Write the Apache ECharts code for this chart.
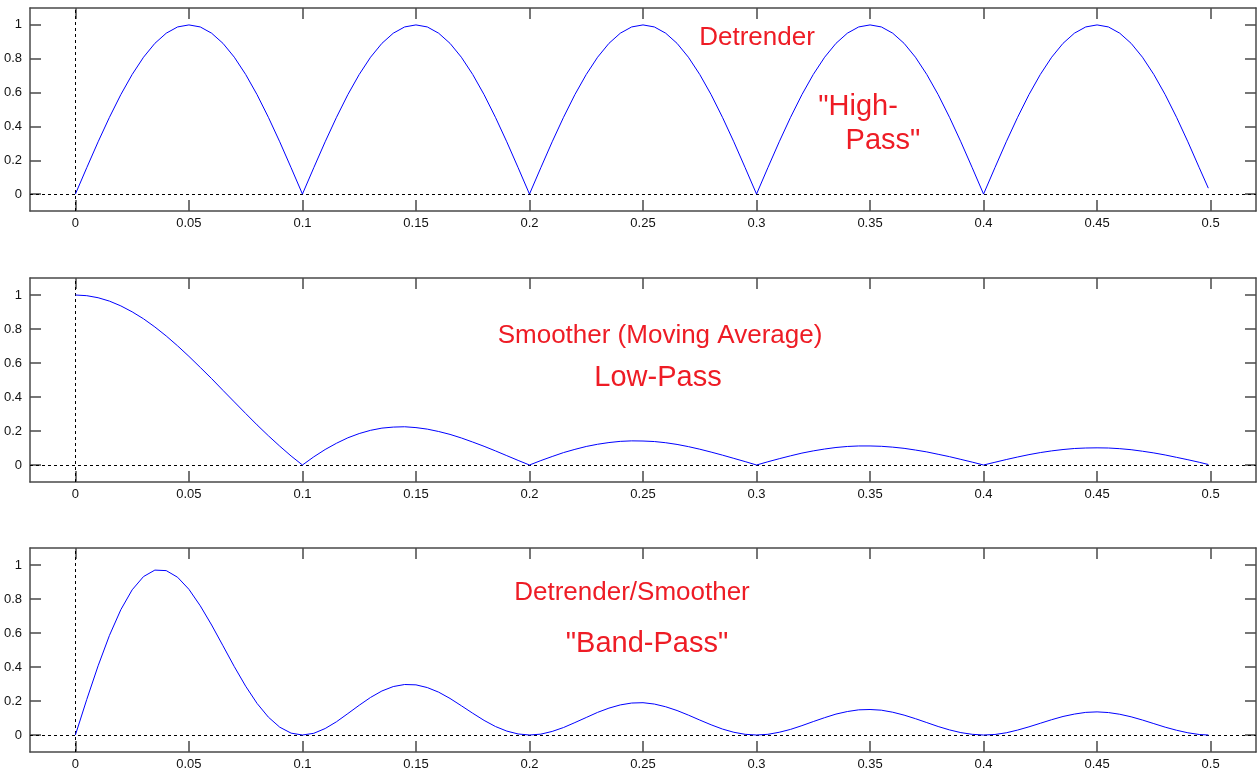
<!DOCTYPE html>
<html>
<head>
<meta charset="utf-8">
<script src="https://cdn.jsdelivr.net/npm/echarts@6/dist/echarts.min.js"></script>
<style>
html,body{margin:0;padding:0;background:#fff;}
#chart{width:1257px;height:774px;}
</style>
</head>
<body>
<div id="chart"></div>
<script>
// frequency (cycles per sample)
var freq = [0,0.005,0.01,0.015,0.02,0.025,0.03,0.035,0.04,0.045,
0.05,0.055,0.06,0.065,0.07,0.075,0.08,0.085,0.09,0.095,
0.1,0.105,0.11,0.115,0.12,0.125,0.13,0.135,0.14,0.145,
0.15,0.155,0.16,0.165,0.17,0.175,0.18,0.185,0.19,0.195,
0.2,0.205,0.21,0.215,0.22,0.225,0.23,0.235,0.24,0.245,
0.25,0.255,0.26,0.265,0.27,0.275,0.28,0.285,0.29,0.295,
0.3,0.305,0.31,0.315,0.32,0.325,0.33,0.335,0.34,0.345,
0.35,0.355,0.36,0.365,0.37,0.375,0.38,0.385,0.39,0.395,
0.4,0.405,0.41,0.415,0.42,0.425,0.43,0.435,0.44,0.445,
0.45,0.455,0.46,0.465,0.47,0.475,0.48,0.485,0.49,0.495,
0.499];

// Detrender ("High-Pass") response
var highPass = [0,0.156,0.309,0.454,0.588,0.707,0.809,0.891,0.951,0.988,
1,0.988,0.951,0.891,0.809,0.707,0.588,0.454,0.309,0.156,
0,0.156,0.309,0.454,0.588,0.707,0.809,0.891,0.951,0.988,
1,0.988,0.951,0.891,0.809,0.707,0.588,0.454,0.309,0.156,
0,0.156,0.309,0.454,0.588,0.707,0.809,0.891,0.951,0.988,
1,0.988,0.951,0.891,0.809,0.707,0.588,0.454,0.309,0.156,
0,0.156,0.309,0.454,0.588,0.707,0.809,0.891,0.951,0.988,
1,0.988,0.951,0.891,0.809,0.707,0.588,0.454,0.309,0.156,
0,0.156,0.309,0.454,0.588,0.707,0.809,0.891,0.951,0.988,
1,0.988,0.951,0.891,0.809,0.707,0.588,0.454,0.309,0.156,
0.035];

// Smoother (Moving Average) "Low-Pass" response
var lowPass = [1,0.996,0.984,0.964,0.936,0.901,0.860,0.812,0.759,0.701,
0.639,0.574,0.508,0.439,0.371,0.303,0.236,0.172,0.111,0.053,
0,0.048,0.091,0.128,0.160,0.185,0.204,0.217,0.223,0.225,
0.220,0.211,0.197,0.180,0.159,0.135,0.110,0.083,0.055,0.027,
0,0.026,0.050,0.073,0.092,0.109,0.122,0.132,0.139,0.142,
0.141,0.138,0.131,0.121,0.108,0.093,0.076,0.058,0.039,0.020,
0,0.019,0.037,0.054,0.070,0.083,0.094,0.103,0.109,0.112,
0.112,0.110,0.105,0.098,0.088,0.077,0.063,0.049,0.033,0.017,
0,0.016,0.032,0.047,0.061,0.073,0.083,0.091,0.097,0.100,
0.101,0.100,0.096,0.090,0.081,0.071,0.059,0.045,0.031,0.016,
0.003];

// Detrender/Smoother "Band-Pass" response
var bandPass = [0,0.209,0.407,0.586,0.737,0.854,0.932,0.970,0.967,0.928,
0.857,0.760,0.647,0.525,0.402,0.287,0.186,0.105,0.046,0.011,
0,0.010,0.038,0.078,0.126,0.175,0.221,0.259,0.285,0.297,
0.295,0.279,0.252,0.215,0.172,0.128,0.086,0.050,0.023,0.006,
0,0.005,0.021,0.044,0.073,0.103,0.133,0.158,0.177,0.188,
0.190,0.182,0.166,0.144,0.117,0.088,0.060,0.035,0.016,0.004,
0,0.004,0.016,0.033,0.055,0.079,0.102,0.123,0.138,0.148,
0.150,0.146,0.134,0.117,0.096,0.073,0.050,0.030,0.014,0.004,
0,0.003,0.013,0.029,0.048,0.069,0.090,0.109,0.123,0.133,
0.136,0.132,0.122,0.107,0.088,0.067,0.046,0.028,0.013,0.003,
0];

var xTicks = [0,0.05,0.1,0.15,0.2,0.25,0.3,0.35,0.4,0.45,0.5];
var yTicks = [0,0.2,0.4,0.6,0.8,1];

var panelSeries = [highPass, lowPass, bandPass];

var chart = echarts.init(document.getElementById('chart'), null, {renderer:'canvas'});

var AX = '#4a4a4a';
var LABEL_FONT = '"Liberation Sans", Arial, sans-serif';
var grids = [
  {left:30, right:1, top:8, height:203},
  {left:30, right:1, top:278, height:204},
  {left:30, right:1, top:548, height:204}
];

var xAxes = [], yAxes = [], series = [];
grids.forEach(function(g, i){
  // bottom x axis with labels
  xAxes.push({
    type:'value', gridIndex:i, position:'bottom', min:-0.02, max:0.52,
    axisLine:{show:true, onZero:false, lineStyle:{color:AX, width:1.5}},
    axisTick:{show:true, inside:true, length:11, customValues:xTicks, lineStyle:{color:AX, width:1.5}},
    axisLabel:{show:true, customValues:xTicks, margin:6, color:'#111', fontSize:13, fontFamily:LABEL_FONT,
      formatter:function(v){return String(v);}},
    splitLine:{show:false}
  });
  // top x axis, ticks only
  xAxes.push({
    type:'value', gridIndex:i, position:'top', min:-0.02, max:0.52,
    axisLine:{show:true, onZero:false, lineStyle:{color:AX, width:1.5}},
    axisTick:{show:true, inside:true, length:11, customValues:xTicks, lineStyle:{color:AX, width:1.5}},
    axisLabel:{show:false},
    splitLine:{show:false}
  });
  yAxes.push({
    type:'value', gridIndex:i, position:'left', min:-0.1, max:1.1,
    axisLine:{show:true, onZero:false, lineStyle:{color:AX, width:1.5}},
    axisTick:{show:true, inside:true, length:11, customValues:yTicks, lineStyle:{color:AX, width:1.5}},
    axisLabel:{show:true, customValues:yTicks, margin:8, color:'#111', fontSize:13, fontFamily:LABEL_FONT,
      formatter:function(v){return String(v);}},
    splitLine:{show:false}
  });
  yAxes.push({
    type:'value', gridIndex:i, position:'right', min:-0.1, max:1.1,
    axisLine:{show:true, onZero:false, lineStyle:{color:AX, width:1.5}},
    axisTick:{show:true, inside:true, length:11, customValues:yTicks, lineStyle:{color:AX, width:1.5}},
    axisLabel:{show:false},
    splitLine:{show:false}
  });
  var vals = panelSeries[i];
  series.push({
    type:'line', xAxisIndex:i*2, yAxisIndex:i*2,
    data: freq.map(function(f, k){ return [f, vals[k]]; }),
    showSymbol:false, symbol:'none', smooth:false,
    lineStyle:{color:'#0000ff', width:1},
    silent:true, z:3,
    markLine:{
      silent:true, symbol:['none','none'], animation:false,
      label:{show:false},
      lineStyle:{color:'#000', width:1, type:[3,3]},
      emphasis:{disabled:true},
      data:[{yAxis:0},{xAxis:0}],
      z:2
    }
  });
});

function txt(s, x, y, size){
  return {type:'text', x:x, y:y, z:10, style:{text:s, fill:'#ee1c25',
    font: size + 'px "Liberation Sans", Arial, sans-serif',
    textAlign:'center', textVerticalAlign:'middle', align:'center', verticalAlign:'middle'}};
}

chart.setOption({
  animation:false,
  backgroundColor:'#ffffff',
  grid:grids,
  xAxis:xAxes,
  yAxis:yAxes,
  series:series,
  graphic:[
    txt('Detrender', 757, 38, 26),
    txt('"High-', 858, 107, 29),
    txt('Pass"', 883, 141, 29),
    txt('Smoother (Moving Average)', 660, 336, 26),
    txt('Low-Pass', 658, 378, 29),
    txt('Detrender/Smoother', 632, 593, 26),
    txt('"Band-Pass"', 647, 644, 29)
  ]
});
</script>
</body>
</html>
